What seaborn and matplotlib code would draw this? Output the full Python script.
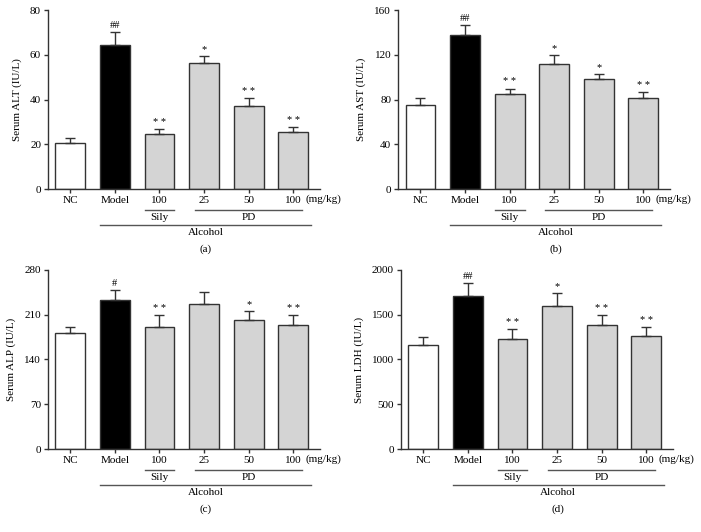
import numpy as np
import pandas as pd
import seaborn as sns
import matplotlib.pyplot as plt
from matplotlib import transforms

# groups and labels
groups = ['NC', 'Model', 'Sily100', 'PD25', 'PD50', 'PD100']
tick_labels = ['NC', 'Model', '100', '25', '50', '100']

# serum values (mean, SD)
alt_mean = [20.6, 64.3, 24.7, 56.2, 36.9, 25.6]
alt_sd = [2.3, 5.7, 2.2, 3.1, 3.6, 2.1]
ast_mean = [75.4, 137.3, 85.0, 111.3, 98.2, 81.4]
ast_sd = [6.3, 9.0, 4.8, 8.1, 4.2, 5.4]
alp_mean = [181.6, 232.9, 191.5, 226.6, 202.0, 193.6]
alp_sd = [9.4, 16.1, 18.3, 19.4, 13.6, 15.7]
ldh_mean = [1166, 1708, 1226, 1596, 1383, 1260]
ldh_sd = [86, 142, 112, 142, 112, 101]

alt_sig = ['', '##', '* *', '*', '* *', '* *']
ast_sig = ['', '##', '* *', '*', '*', '* *']
alp_sig = ['', '#', '* *', '', '*', '* *']
ldh_sig = ['', '##', '* *', '*', '* *', '* *']

colors = ['white', 'black', '#d4d4d4', '#d4d4d4', '#d4d4d4', '#d4d4d4']
edge = '#333333'

plt.rcParams['font.family'] = ['Liberation Serif', 'DejaVu Serif']
plt.rcParams['font.size'] = 8

panels = [
    ('Serum ALT (IU/L)', alt_mean, alt_sd, alt_sig, 80, 20, '(a)', [0.0685, 0.6447]),
    ('Serum AST (IU/L)', ast_mean, ast_sd, ast_sig, 160, 40, '(b)', [0.568, 0.6447]),
    ('Serum ALP (IU/L)', alp_mean, alp_sd, alp_sig, 280, 70, '(c)', [0.0685, 0.156]),
    ('Serum LDH (IU/L)', ldh_mean, ldh_sd, ldh_sig, 2000, 500, '(d)', [0.572, 0.156]),
]

fig = plt.figure(figsize=(7.01, 5.32), dpi=100)

for ylab, mean, sd, sig, top, step, tag, pos in panels:
    ax = fig.add_axes([pos[0], pos[1], 0.388, 0.3365])
    df = pd.DataFrame({'group': groups, 'value': mean})
    sns.barplot(data=df, x='group', y='value', hue='group', palette=colors,
                legend=False, edgecolor=edge, linewidth=1, width=0.67,
                errorbar=None, ax=ax)
    x = np.arange(len(groups))
    ax.errorbar(x, mean, yerr=[np.zeros(len(sd)), sd], fmt='none', ecolor=edge,
                elinewidth=1, capsize=3.6, capthick=1, zorder=3)
    for xi, m, s, t in zip(x, mean, sd, sig):
        if t:
            ax.text(xi, m + s + top * 0.012, t, ha='center', va='bottom', fontsize=7.5)

    ax.set_ylim(0, top)
    ax.set_yticks(np.arange(0, top + 1, step))
    ax.set_xlim(-0.5, 5.6)
    ax.set_xticks(x)
    ax.set_xticklabels(tick_labels)
    ax.set_xlabel('')
    ax.set_ylabel(ylab, labelpad=6)
    for s in ['top', 'right']:
        ax.spines[s].set_visible(False)
    for s in ['left', 'bottom']:
        ax.spines[s].set_color(edge)
        ax.spines[s].set_linewidth(1)
    ax.tick_params(axis='both', direction='out', length=3, width=1, color=edge, pad=2)

    # group brackets below the axis
    tr = transforms.blended_transform_factory(ax.transData, ax.transAxes)
    ax.text(5.27, -0.03, '(mg/kg)', transform=tr, ha='left', va='top', fontsize=8)
    ax.plot([1.665, 2.335], [-0.118, -0.118], transform=tr, color='#555555', lw=1, clip_on=False)
    ax.plot([2.8, 5.2], [-0.118, -0.118], transform=tr, color='#555555', lw=1, clip_on=False)
    ax.text(2, -0.135, 'Sily', transform=tr, ha='center', va='top', fontsize=8)
    ax.text(4, -0.135, 'PD', transform=tr, ha='center', va='top', fontsize=8)
    ax.plot([0.67, 5.4], [-0.2, -0.2], transform=tr, color='#555555', lw=1, clip_on=False)
    ax.text(3.03, -0.218, 'Alcohol', transform=tr, ha='center', va='top', fontsize=8)
    ax.text(3.03, -0.31, tag, transform=tr, ha='center', va='top', fontsize=8)

plt.savefig('out.png', dpi=100)
